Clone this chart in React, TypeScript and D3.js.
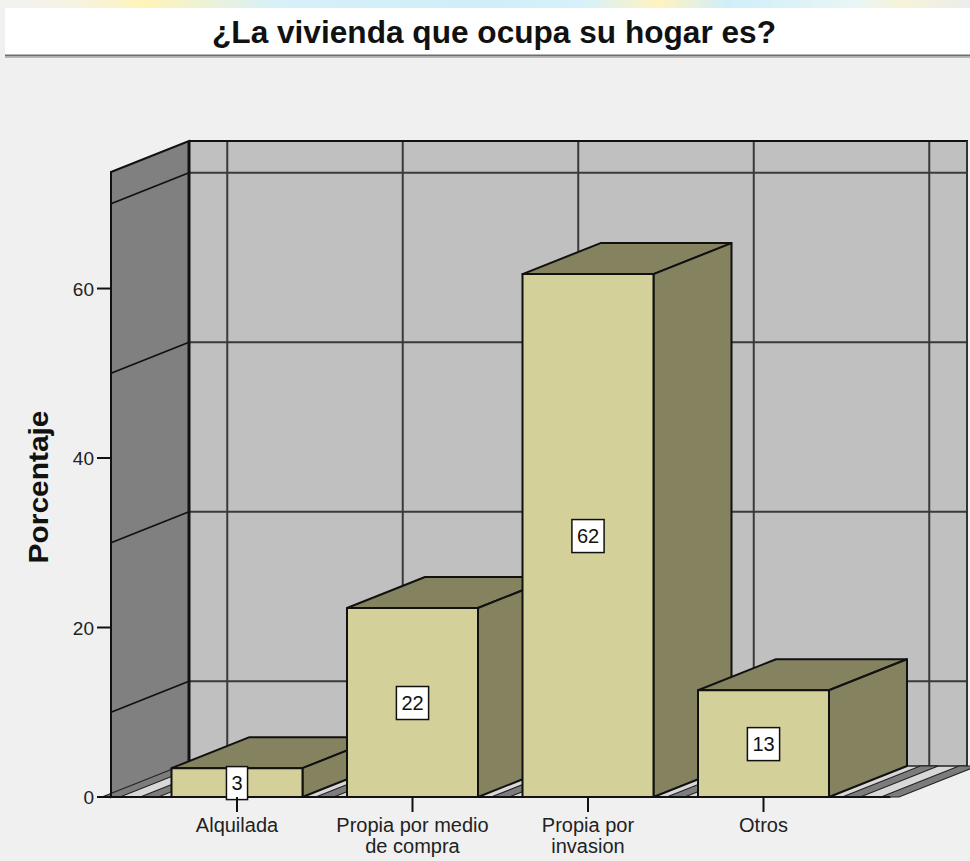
import React from 'react';
import * as d3 from 'd3';

// chart data
const categories = ['Alquilada', 'Propia por medio de compra', 'Propia por invasion', 'Otros'];
const categoryLines = [['Alquilada'], ['Propia por medio', 'de compra'], ['Propia por', 'invasion'], ['Otros']];
const percentages = [3.4, 22.3, 61.7, 12.6];
const valueLabels = ['3', '22', '62', '13'];
const yTicks = [0, 20, 40, 60];
const gridValues = [10, 30, 50, 70];

const W = 970;
const H = 861;
const FONT = '"Liberation Sans", Arial, sans-serif';

// 3d depth offset
const DX = 78;
const DY = -31;

const front = '#d4d09a';
const shade = '#85825f';

function App() {
  var y = d3.scaleLinear().domain([0, 73.75]).range([797, 172]);
  var x = d3.scaleBand()
    .domain(categories)
    .range([149.25, 851.25])
    .paddingInner(0.2536)
    .paddingOuter(0.1268);

  const x0 = 111;            // front left of floor
  const x1 = 890;            // front right of floor
  const base = y(0);
  const top = y(73.75);
  const step = x.step();
  const bw = x.bandwidth();

  // category boundaries (grid lines)
  const bounds = categories.map((c) => x(c) - (step - bw) / 2);
  bounds.push(bounds[bounds.length - 1] + step);

  const pts = (arr) => arr.map((p) => p.join(',')).join(' ');

  return (
    <svg width={W} height={H} style={{ position: 'absolute', left: 0, top: 0, fontFamily: FONT }}>
      <defs>
        <linearGradient id="strip" x1="0" x2="1" y1="0" y2="0">
          <stop offset="0" stopColor="#f2f2f2" />
          <stop offset="0.08" stopColor="#f6f3e0" />
          <stop offset="0.15" stopColor="#fff4b8" />
          <stop offset="0.28" stopColor="#d8f0f8" />
          <stop offset="0.5" stopColor="#cfeefa" />
          <stop offset="0.6" stopColor="#d6f1fb" />
          <stop offset="0.68" stopColor="#fff3c0" />
          <stop offset="0.75" stopColor="#d0eefa" />
          <stop offset="0.88" stopColor="#e8f6f6" />
          <stop offset="0.93" stopColor="#f7f3d8" />
          <stop offset="1" stopColor="#ececec" />
        </linearGradient>
      </defs>
      <rect x={0} y={0} width={W} height={H} fill="#f0f0f0" />
      <rect x={0} y={0} width={W} height={8} fill="url(#strip)" />
      <rect x={5} y={8} width={W - 5} height={47} fill="#ffffff" />
      <line x1={5} x2={W} y1={55.5} y2={55.5} stroke="#6e6e6e" strokeWidth={2} />
      <line x1={5} x2={W} y1={57.5} y2={57.5} stroke="#b8b8b8" strokeWidth={1} />
      <text x={494} y={43} textAnchor="middle" fontSize={31} fontWeight="bold" fill="#111"
        textLength={564} lengthAdjust="spacingAndGlyphs">
        ¿La vivienda que ocupa su hogar es?
      </text>

      {/* back wall */}
      <rect x={x0 + DX} y={top + DY} width={x1 - x0} height={base - top} fill="#c0c0c0" />
      {gridValues.map((v) => (
        <line key={'bh' + v} x1={x0 + DX} x2={x1 + DX} y1={y(v) + DY} y2={y(v) + DY} stroke="#3a3a3a" strokeWidth={2} />
      ))}
      {bounds.map((b, i) => (
        <line key={'bv' + i} x1={b + DX} x2={b + DX} y1={top + DY} y2={base + DY} stroke="#3a3a3a" strokeWidth={2} />
      ))}
      <line x1={x0 + DX} x2={x1 + DX} y1={top + DY} y2={top + DY} stroke="#111" strokeWidth={2} />
      <line x1={x1 + DX - 1} x2={x1 + DX - 1} y1={top + DY} y2={base + DY} stroke="#333" strokeWidth={2} />

      {/* left wall */}
      <polygon
        points={pts([[x0, top], [x0 + DX, top + DY], [x0 + DX, base + DY], [x0, base]])}
        fill="#808080"
        stroke="#111"
        strokeWidth={2}
      />
      {gridValues.map((v) => (
        <line key={'lw' + v} x1={x0} x2={x0 + DX} y1={y(v)} y2={y(v) + DY} stroke="#111" strokeWidth={1.8} />
      ))}
      <line x1={x0 + DX} x2={x0 + DX} y1={top + DY} y2={base + DY} stroke="#111" strokeWidth={3} />

      {/* floor */}
      <polygon
        points={pts([[x0, base], [x1, base], [x1 + DX, base + DY], [x0 + DX, base + DY]])}
        fill="#d8d8d8"
        stroke="#222"
        strokeWidth={1.5}
      />
      {[x0].concat(bounds).concat([x1]).map((b, i) => (
        <polygon
          key={'fb' + i}
          points={pts([[b - 9, base], [b + 9, base], [b + 9 + DX, base + DY], [b - 9 + DX, base + DY]])}
          fill="#7c7c7c"
          stroke="#222"
          strokeWidth={1.2}
        />
      ))}
      <line x1={x0} x2={x1} y1={base} y2={base} stroke="#111" strokeWidth={2} />

      {/* bars */}
      {categories.map((c, i) => {
        const bx0 = x(c);
        const bx1 = bx0 + bw;
        const yt = y(percentages[i]);
        return (
          <g key={c} stroke="#111" strokeWidth={2} strokeLinejoin="round">
            <polygon points={pts([[bx0, yt], [bx0 + DX, yt + DY], [bx1 + DX, yt + DY], [bx1, yt]])} fill={shade} />
            <polygon points={pts([[bx1, yt], [bx1 + DX, yt + DY], [bx1 + DX, base + DY], [bx1, base]])} fill={shade} />
            <rect x={bx0} y={yt} width={bw} height={base - yt} fill={front} />
          </g>
        );
      })}

      {/* value labels */}
      {categories.map((c, i) => {
        const cx = x(c) + bw / 2;
        const cy = (y(percentages[i]) + base) / 2;
        const tw = valueLabels[i].length * 11.1 + 10;
        return (
          <g key={'vl' + c}>
            <rect x={cx - tw / 2} y={cy - 16} width={tw} height={33} fill="#fff" stroke="#111" strokeWidth={1.5} />
            <text x={cx} y={cy + 7.5} textAnchor="middle" fontSize={20} fill="#111">
              {valueLabels[i]}
            </text>
          </g>
        );
      })}

      {/* y axis */}
      <line x1={x0} x2={x0} y1={top} y2={base} stroke="#111" strokeWidth={2} />
      {yTicks.map((t) => (
        <g key={'yt' + t}>
          <line x1={97} x2={x0} y1={y(t)} y2={y(t)} stroke="#111" strokeWidth={2} />
          <text x={94} y={y(t) + 7} textAnchor="end" fontSize={19} fill="#222">
            {t}
          </text>
        </g>
      ))}
      <text
        transform={`translate(48,${487}) rotate(-90)`}
        textAnchor="middle"
        fontSize={27}
        fontWeight="bold"
        fill="#111"
        textLength={153}
        lengthAdjust="spacingAndGlyphs"
      >
        Porcentaje
      </text>

      {/* x axis */}
      {categories.map((c, i) => {
        const cx = x(c) + bw / 2;
        return (
          <g key={'xt' + c}>
            <line x1={cx} x2={cx} y1={base} y2={812} stroke="#111" strokeWidth={2} />
            {categoryLines[i].map((ln, j) => (
              <text key={j} x={cx} y={832 + j * 21} textAnchor="middle" fontSize={20} fill="#222">
                {ln}
              </text>
            ))}
          </g>
        );
      })}
    </svg>
  );
}

export default App;
